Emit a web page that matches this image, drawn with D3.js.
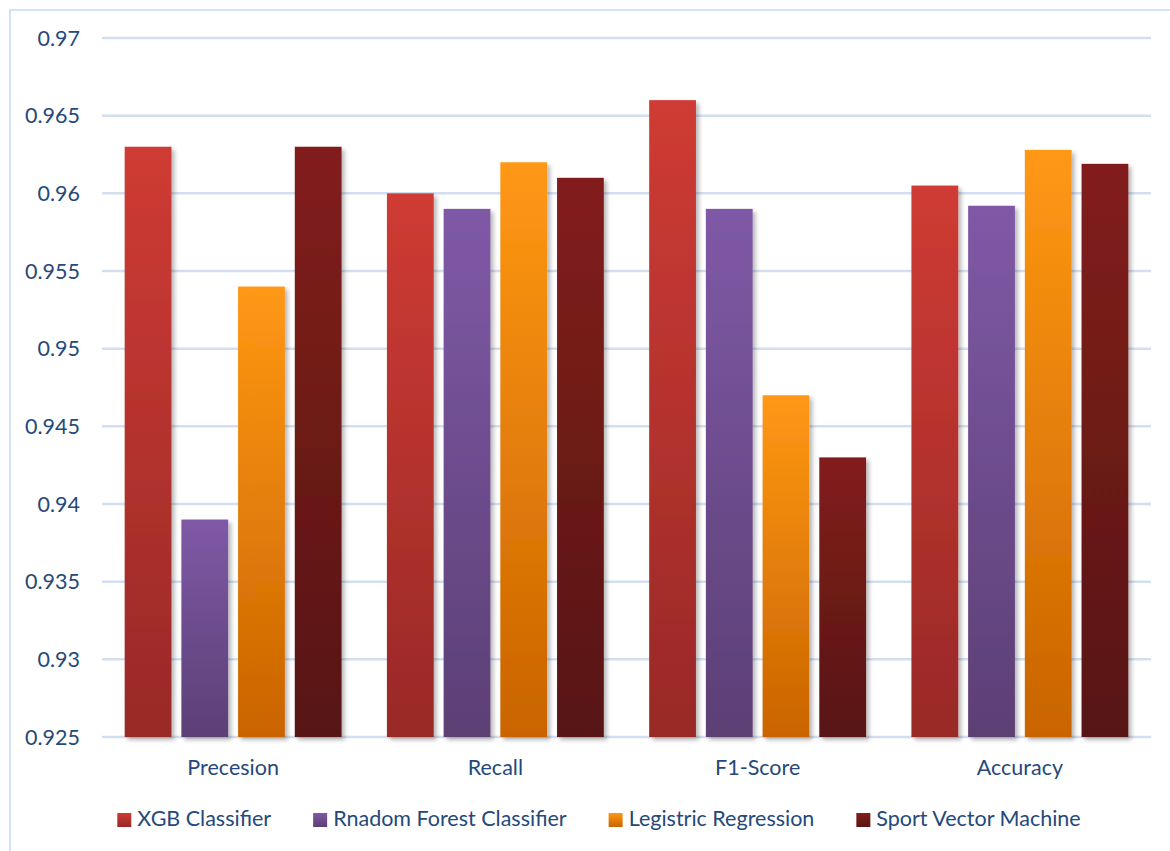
<!DOCTYPE html>
<html>
<head>
<meta charset="utf-8">
<script src="https://cdn.jsdelivr.net/npm/d3@7"></script>
<style>
  html, body { margin: 0; padding: 0; background: #ffffff; }
  svg { display: block; }
  text { font-family: "Lato", "Noto Sans", sans-serif; fill: #24497a; }
</style>
</head>
<body>
<svg id="chart" width="1170" height="851"></svg>
<script>
// Metric groups along the x axis
const categories = ["Precesion", "Recall", "F1-Score", "Accuracy"];
// Model series
const series = ["XGB Classifier", "Rnadom Forest Classifier", "Legistric Regression", "Sport Vector Machine"];
// Scores per model, in the order of categories
const xgbValues = [0.963, 0.960, 0.966, 0.9605];
const rfValues  = [0.939, 0.959, 0.959, 0.9592];
const lrValues  = [0.954, 0.962, 0.947, 0.9628];
const svmValues = [0.963, 0.961, 0.943, 0.9619];
// Y axis ticks
const yTicks = [0.925, 0.93, 0.935, 0.94, 0.945, 0.95, 0.955, 0.96, 0.965, 0.97];

const seriesValues = [xgbValues, rfValues, lrValues, svmValues];
const palette = [
  { top: "#cf3b34", bottom: "#982927" },
  { top: "#7f59a6", bottom: "#5c3f75" },
  { top: "#ff9814", bottom: "#c96400" },
  { top: "#821f1b", bottom: "#571513" }
];
const fontSize = 21.5;

const svg = d3.select("#chart");
const defs = svg.append("defs");

palette.forEach((c, i) => {
  const g = defs.append("linearGradient")
    .attr("id", "grad" + i)
    .attr("x1", 0).attr("y1", 0).attr("x2", 0).attr("y2", 1);
  g.append("stop").attr("offset", "0%").attr("stop-color", c.top);
  g.append("stop").attr("offset", "100%").attr("stop-color", c.bottom);
});

const shadow = defs.append("filter").attr("id", "shadow")
  .attr("x", "-20%").attr("y", "-5%").attr("width", "150%").attr("height", "115%");
shadow.append("feDropShadow")
  .attr("dx", 3).attr("dy", 3).attr("stdDeviation", 2.2)
  .attr("flood-color", "#000").attr("flood-opacity", 0.28);

// Outer frame
svg.append("rect")
  .attr("x", 10).attr("y", 10).attr("width", 1180).attr("height", 860)
  .attr("fill", "none").attr("stroke", "#d6e3f3").attr("stroke-width", 2);

const plotLeft = 102, plotRight = 1151;
const y = d3.scaleLinear().domain([0.925, 0.97]).range([737, 38]);
const x0 = d3.scaleBand().domain(categories).range([plotLeft, plotRight]).paddingInner(0).paddingOuter(0);
const x1 = d3.scaleBand().domain(series).range([0, x0.bandwidth()]).paddingInner(0.175).paddingOuter(0.4);

// Gridlines
svg.append("g").selectAll("line").data(yTicks).join("line")
  .attr("x1", plotLeft).attr("x2", plotRight)
  .attr("y1", d => y(d)).attr("y2", d => y(d))
  .attr("stroke", "#d3dff0").attr("stroke-width", 2.5);

// Y tick labels
svg.append("g").selectAll("text").data(yTicks).join("text")
  .attr("x", 80).attr("y", d => y(d))
  .attr("dy", "0.36em")
  .attr("text-anchor", "end")
  .attr("font-size", fontSize)
  .text(d => d3.format("")(+d.toFixed(3)));

// Bars
const groups = svg.append("g").selectAll("g").data(categories).join("g")
  .attr("transform", d => `translate(${x0(d)},0)`);

groups.selectAll("rect")
  .data((cat, ci) => series.map((s, si) => ({ s, si, v: seriesValues[si][ci] })))
  .join("rect")
  .attr("x", d => x1(d.s))
  .attr("width", x1.bandwidth())
  .attr("y", d => y(d.v))
  .attr("height", d => y(0.925) - y(d.v))
  .attr("fill", d => `url(#grad${d.si})`)
  .attr("filter", "url(#shadow)");

// Category labels
svg.append("g").selectAll("text").data(categories).join("text")
  .attr("x", d => x0(d) + x0.bandwidth() / 2)
  .attr("y", 775)
  .attr("text-anchor", "middle")
  .attr("font-size", fontSize)
  .text(d => d);

// Legend
const legend = svg.append("g");
const items = legend.selectAll("g").data(series).join("g");
items.append("rect")
  .attr("width", 14).attr("height", 14).attr("y", -13)
  .attr("fill", (d, i) => `url(#grad${i})`);
items.append("text")
  .attr("x", 20).attr("y", 0)
  .attr("font-size", fontSize)
  .text(d => d);

let cursor = 0;
items.each(function () {
  const w = d3.select(this).select("text").node().getComputedTextLength();
  d3.select(this).attr("transform", `translate(${cursor},826)`);
  cursor += 20 + w + 42;
});
const total = cursor - 42;
legend.attr("transform", `translate(${599 - total / 2},0)`);
</script>
</body>
</html>
